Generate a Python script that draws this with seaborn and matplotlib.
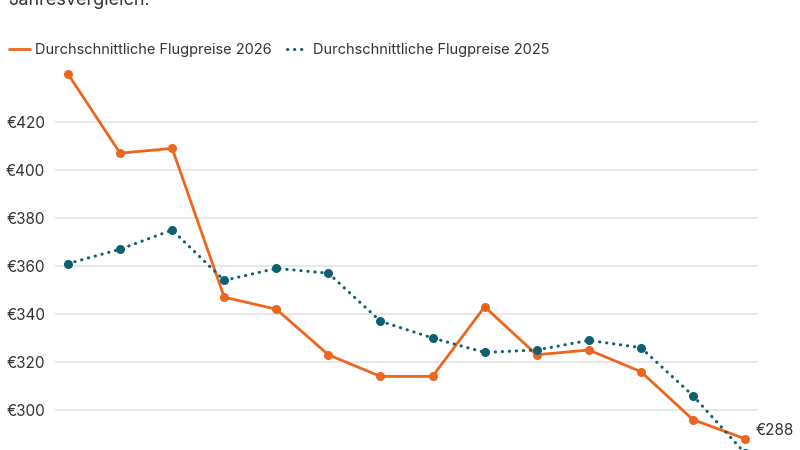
import matplotlib
matplotlib.use("Agg")
import matplotlib.pyplot as plt
from matplotlib.lines import Line2D
import seaborn as sns
import pandas as pd

# average flight prices, one value per point (left to right)
preise_2026 = [440, 407, 409, 347, 342, 323, 314, 314, 343, 323, 325, 316, 296, 288]
preise_2025 = [361, 367, 375, 354, 359, 357, 337, 330, 324, 325, 329, 326, 306, 282]
y_ticks = [300, 320, 340, 360, 380, 400, 420]
label_2026 = "Durchschnittliche Flugpreise 2026"
label_2025 = "Durchschnittliche Flugpreise 2025"

ORANGE = "#EC661E"
TEAL = "#0E5F71"
TEXT = "#333333"
DOTS = (0, (0.1, 2.2))

sns.set_theme(style="white")
plt.rcParams["font.family"] = ["Inter", "DejaVu Sans"]

df = pd.DataFrame({
    "idx": list(range(len(preise_2026))),
    "p2026": preise_2026,
    "p2025": preise_2025,
})

fig = plt.figure(figsize=(8, 4.5), dpi=100)
# axes run past the bottom edge, like the cropped original
ax = fig.add_axes([55 / 800, -56 / 450, 703 / 800, 444 / 450])

sns.lineplot(data=df, x="idx", y="p2026", ax=ax, color=ORANGE, linewidth=2,
             marker="o", markersize=6.5, markeredgewidth=0, legend=False)
sns.lineplot(data=df, x="idx", y="p2025", ax=ax, color=TEAL, linewidth=2.2,
             linestyle=DOTS, dash_capstyle="round",
             marker="o", markersize=6.5, markeredgewidth=0, legend=False)

ax.set_xlim(-0.25, len(df) - 1 + 0.25)
ax.set_ylim(260, 445)
ax.set_yticks(y_ticks)
ax.set_yticklabels([f"€{v}" for v in y_ticks], fontsize=11, color=TEXT)
ax.set_xticks([])
ax.set_xlabel("")
ax.set_ylabel("")
ax.tick_params(axis="y", length=0, pad=7)
ax.grid(axis="y", color="#e3e3e3", linewidth=1.2)
ax.set_axisbelow(True)
for s in ax.spines.values():
    s.set_visible(False)

# value label on the last 2026 point
ax.annotate(f"€{preise_2026[-1]}", xy=(len(df) - 1, preise_2026[-1]),
            xytext=(8, 6), textcoords="offset points",
            fontsize=11, color=TEXT, va="center", ha="left",
            annotation_clip=False)

handles = [
    Line2D([], [], color=ORANGE, linewidth=2),
    Line2D([], [], color=TEAL, linewidth=2.2, linestyle=DOTS, dash_capstyle="round"),
]
fig.legend(handles, [label_2026, label_2025], loc="center left",
           bbox_to_anchor=(-4 / 800, 1 - 50 / 450), ncol=2, frameon=False,
           fontsize=10.5, handlelength=1.4, handletextpad=0.35,
           columnspacing=1.1, labelcolor=TEXT)

fig.text(8 / 800, 1 - 5 / 450, "Jahresvergleich.", fontsize=13, color=TEXT,
         va="baseline", ha="left")

fig.savefig("out.png", dpi=100)
